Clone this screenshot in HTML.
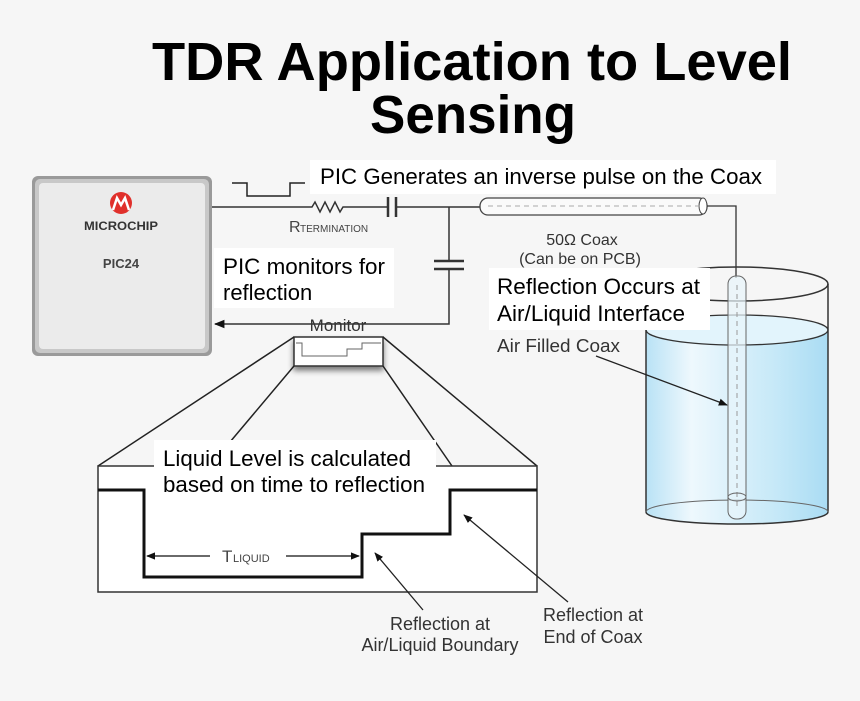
<!DOCTYPE html>
<html><head><meta charset="utf-8"><style>
html,body{margin:0;padding:0;background:#f6f6f6}
svg{display:block}
text{font-family:"Liberation Sans",sans-serif}
</style></head><body>
<svg width="860" height="701" viewBox="0 0 860 701" xmlns="http://www.w3.org/2000/svg">
<defs>
<marker id="ah" viewBox="0 0 10 10" refX="9" refY="5" markerWidth="7" markerHeight="7" orient="auto-start-reverse"><path d="M0,1 L10,5 L0,9 Z" fill="#111"/></marker>
<linearGradient id="water" x1="0" x2="1" y1="0" y2="0">
<stop offset="0" stop-color="#b9e2f5"/><stop offset="0.25" stop-color="#eef8fd"/><stop offset="0.7" stop-color="#c7e9f8"/><stop offset="1" stop-color="#aadcf3"/></linearGradient>
<filter id="sh" x="-20%" y="-20%" width="140%" height="160%"><feDropShadow dx="0" dy="4" stdDeviation="3" flood-color="#000" flood-opacity="0.5"/></filter>
</defs>
<rect width="860" height="701" fill="#f6f6f6"/>
<text x="152" y="80" font-size="54" font-weight="bold" textLength="640" lengthAdjust="spacingAndGlyphs">TDR Application to Level</text>
<text x="370" y="133" font-size="54" font-weight="bold" textLength="206" lengthAdjust="spacingAndGlyphs">Sensing</text>

<rect x="32" y="176" width="180" height="180" rx="6" fill="#9a9a9a"/>
<rect x="35" y="179" width="174" height="174" rx="5" fill="#c8c8c8"/>
<rect x="39" y="183" width="166" height="166" rx="4" fill="#ebebeb"/>
<circle cx="121" cy="203" r="11" fill="#e0302b"/>
<path d="M113,210 L117,198 L121,205 L125,198 L129,210" stroke="#fff" stroke-width="2.5" fill="none"/>
<text x="121" y="230" font-size="12" font-weight="bold" fill="#333" text-anchor="middle" textLength="74" lengthAdjust="spacingAndGlyphs">MICROCHIP</text>
<text x="121" y="268" font-size="13" font-weight="bold" fill="#444" text-anchor="middle">PIC24</text>

<path d="M232,183 H247 V196 H290 V183 H305" stroke="#222" stroke-width="1.5" fill="none"/>
<path d="M212,207 H312 l3,-5 l5,10 l5,-10 l5,10 l5,-10 l5,10 l3,-5 H388 M396,207 H480" stroke="#333" stroke-width="1.5" fill="none"/>
<path d="M388,197 V217 M396,197 V217" stroke="#333" stroke-width="2.5"/>
<text x="289" y="232" font-size="16" fill="#444">R</text>
<text x="300" y="232" font-size="10" fill="#444">TERMINATION</text>
<path d="M449,207 V261 M449,269 V324 H215" stroke="#333" stroke-width="1.5" fill="none" marker-end="url(#ah)"/>
<path d="M434,261 H464 M434,269 H464" stroke="#333" stroke-width="2.5"/>

<rect x="480" y="198" width="227" height="17" rx="8" fill="#fafafa" stroke="#444" stroke-width="1.3"/>
<ellipse cx="703" cy="206" rx="4" ry="8" fill="#fff" stroke="#444"/>
<line x1="488" y1="206" x2="700" y2="206" stroke="#aaa" stroke-dasharray="5,4"/>
<path d="M707,206 H736 V278" stroke="#333" stroke-width="1.3" fill="none"/>
<text x="582" y="245" font-size="16" fill="#333" text-anchor="middle">50Ω Coax</text>
<text x="580" y="264" font-size="16" fill="#333" text-anchor="middle">(Can be on PCB)</text>

<ellipse cx="737" cy="284" rx="91" ry="17" fill="none" stroke="#333" stroke-width="1.5"/>
<path d="M646,330 V512 A91,12 0 0 0 828,512 V330 Z" fill="url(#water)"/>
<ellipse cx="737" cy="330" rx="91" ry="15" fill="#e2f4fc" stroke="#333" stroke-width="1.3"/>
<path d="M646,284 V512 A91,12 0 0 0 828,512 V284" fill="none" stroke="#333" stroke-width="1.5"/>
<path d="M646,512 A91,12 0 0 1 828,512" fill="none" stroke="#666" stroke-width="1"/>
<rect x="728" y="276" width="18" height="243" rx="8" fill="#e8f5fb" fill-opacity="0.7" stroke="#666" stroke-width="1"/>
<line x1="737" y1="285" x2="737" y2="510" stroke="#999" stroke-dasharray="5,4"/>
<ellipse cx="737" cy="497" rx="9" ry="4" fill="none" stroke="#666"/>
<text x="497" y="352" font-size="18" fill="#333" textLength="123" lengthAdjust="spacingAndGlyphs">Air Filled Coax</text>
<line x1="596" y1="356" x2="727" y2="405" stroke="#222" stroke-width="1.3" marker-end="url(#ah)"/>

<text x="338" y="331" font-size="17" fill="#333" text-anchor="middle">Monitor</text>
<rect x="294" y="337" width="89" height="29" fill="#fff" stroke="#333" stroke-width="1.5" filter="url(#sh)"/>
<path d="M296,343 H302 V356 H347 V349 H362 V343 H381" stroke="#666" fill="none"/>
<path d="M294,337 L98,466 M383,337 L537,466 M294,366 L230,442 M383,366 L452,466" stroke="#222" stroke-width="1.5" fill="none"/>

<rect x="98" y="466" width="439" height="126" fill="#fff" stroke="#333" stroke-width="1.5"/>
<path d="M98,490 H144 V577 H362 V534 H450 V490 H537" stroke="#111" stroke-width="3" fill="none"/>
<line x1="210" y1="556" x2="147" y2="556" stroke="#111" stroke-width="1.3" marker-end="url(#ah)"/>
<line x1="286" y1="556" x2="359" y2="556" stroke="#111" stroke-width="1.3" marker-end="url(#ah)"/>
<text x="222" y="562" font-size="17" fill="#444">T</text>
<text x="233" y="562" font-size="11" fill="#444">LIQUID</text>
<line x1="423" y1="610" x2="375" y2="553" stroke="#222" stroke-width="1.3" marker-end="url(#ah)"/>
<line x1="568" y1="602" x2="464" y2="515" stroke="#222" stroke-width="1.3" marker-end="url(#ah)"/>
<text x="440" y="630" font-size="18" fill="#333" text-anchor="middle">Reflection at</text>
<text x="440" y="651" font-size="18" fill="#333" text-anchor="middle">Air/Liquid Boundary</text>
<text x="593" y="621" font-size="18" fill="#333" text-anchor="middle">Reflection at</text>
<text x="593" y="643" font-size="18" fill="#333" text-anchor="middle">End of Coax</text>

<rect x="310" y="160" width="466" height="34" fill="#fff"/>
<text x="320" y="184" font-size="22" fill="#000" textLength="442" lengthAdjust="spacingAndGlyphs">PIC Generates an inverse pulse on the Coax</text>
<rect x="214" y="248" width="180" height="60" fill="#fff"/>
<text x="223" y="274" font-size="22" fill="#000" textLength="162" lengthAdjust="spacingAndGlyphs">PIC monitors for</text>
<text x="223" y="300" font-size="22" fill="#000">reflection</text>
<rect x="489" y="268" width="221" height="62" fill="#fff"/>
<text x="497" y="294" font-size="22" fill="#000" textLength="203" lengthAdjust="spacingAndGlyphs">Reflection Occurs at</text>
<text x="497" y="321" font-size="22" fill="#000" textLength="188" lengthAdjust="spacingAndGlyphs">Air/Liquid Interface</text>
<rect x="154" y="440" width="282" height="56" fill="#fff"/>
<text x="163" y="466" font-size="22" fill="#000" textLength="248" lengthAdjust="spacingAndGlyphs">Liquid Level is calculated</text>
<text x="163" y="492" font-size="22" fill="#000" textLength="262" lengthAdjust="spacingAndGlyphs">based on time to reflection</text>
</svg>
</body></html>
